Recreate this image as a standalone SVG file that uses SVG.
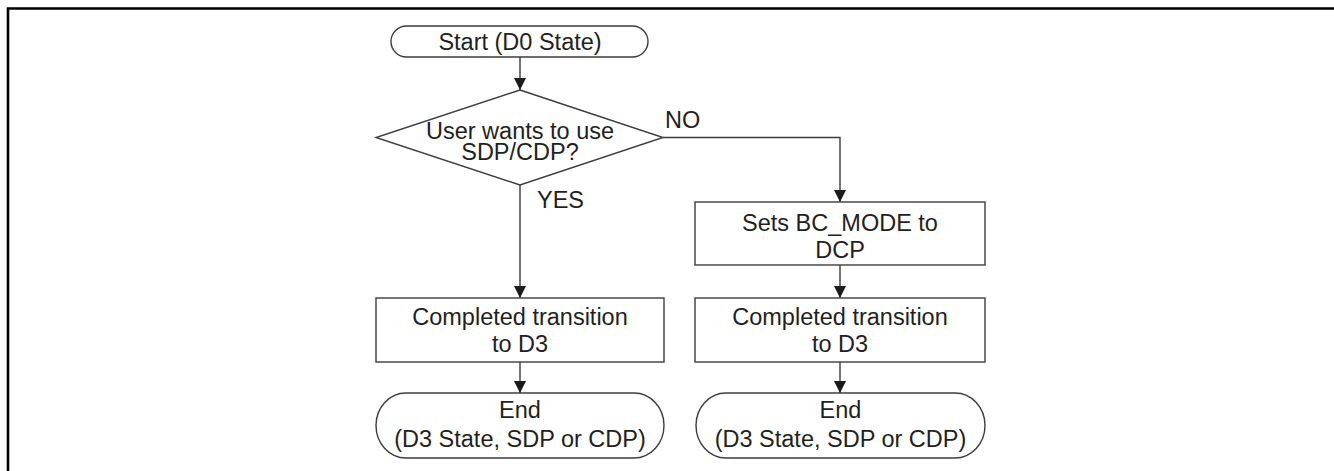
<svg xmlns="http://www.w3.org/2000/svg" width="1334" height="471" viewBox="0 0 1334 471">
  <style>
    .shape { fill: #ffffff; stroke: #3c3c3c; stroke-width: 1.4; }
    .label { font-family: "Liberation Sans", Arial, sans-serif; font-size: 23.5px; fill: #231f20; text-anchor: middle; }
    .tag { font-family: "Liberation Sans", Arial, sans-serif; font-size: 23.5px; fill: #231f20; }
    .wire { fill: none; stroke: #3c3c3c; stroke-width: 1.4; }
  </style>
  <defs>
    <marker id="arrow" markerWidth="12" markerHeight="13" refX="12" refY="6" orient="auto" markerUnits="userSpaceOnUse">
      <path d="M0,0 L12,6 L0,12 Z" fill="#1a1a1a"/>
    </marker>
  </defs>

  <rect x="0" y="0" width="1334" height="471" fill="#ffffff"/>
  <!-- outer frame: top and left edges -->
  <path d="M1334,8.5 H8 V471" fill="none" stroke="#000000" stroke-width="2.6"/>

  <g id="connectors">
    <path class="wire" d="M520,57 V90" marker-end="url(#arrow)"/>
    <path class="wire" d="M520,185 V298" marker-end="url(#arrow)"/>
    <path class="wire" d="M663,137.5 H840 V202" marker-end="url(#arrow)"/>
    <path class="wire" d="M840,265 V298" marker-end="url(#arrow)"/>
    <path class="wire" d="M520,362 V393" marker-end="url(#arrow)"/>
    <path class="wire" d="M840,362 V393" marker-end="url(#arrow)"/>
    <text class="tag" x="665" y="128">NO</text>
    <text class="tag" x="537" y="208">YES</text>
  </g>

  <g id="start">
    <rect class="shape" x="391" y="26" width="257" height="31" rx="15.5" ry="15.5"/>
    <text class="label" x="520" y="50">Start (D0 State)</text>
  </g>

  <g id="decision">
    <polygon class="shape" points="520,90 663,137.5 520,185 376,137.5"/>
    <text class="label" x="520" y="139">User wants to use</text>
    <text class="label" x="520" y="160">SDP/CDP?</text>
  </g>

  <g id="set-bc-mode">
    <rect class="shape" x="695" y="202" width="290" height="63"/>
    <text class="label" x="840" y="231">Sets BC_MODE to</text>
    <text class="label" x="840" y="258">DCP</text>
  </g>

  <g id="transition-left">
    <rect class="shape" x="376" y="298" width="288" height="64"/>
    <text class="label" x="520" y="325">Completed transition</text>
    <text class="label" x="520" y="352">to D3</text>
  </g>

  <g id="transition-right">
    <rect class="shape" x="695" y="298" width="290" height="64"/>
    <text class="label" x="840" y="325">Completed transition</text>
    <text class="label" x="840" y="352">to D3</text>
  </g>

  <g id="end-left">
    <rect class="shape" x="376" y="393" width="288" height="65" rx="30" ry="32.5"/>
    <text class="label" x="520" y="418">End</text>
    <text class="label" x="520" y="447">(D3 State, SDP or CDP)</text>
  </g>

  <g id="end-right">
    <rect class="shape" x="696" y="393" width="289" height="65" rx="30" ry="32.5"/>
    <text class="label" x="840.5" y="418">End</text>
    <text class="label" x="840.5" y="447">(D3 State, SDP or CDP)</text>
  </g>
</svg>
